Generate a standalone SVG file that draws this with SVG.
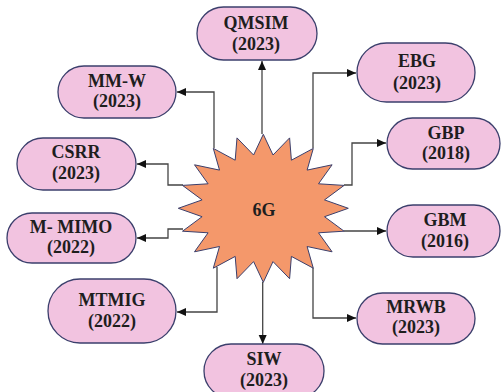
<svg xmlns="http://www.w3.org/2000/svg" width="501" height="392" viewBox="0 0 501 392">
<style>
.pill{fill:#F2C3E0;stroke:#3b3f6c;stroke-width:1.3}
.t{font-family:"Liberation Serif","Times New Roman",serif;font-weight:bold;font-size:18px;fill:#1e1e1e;text-anchor:middle}
.c{fill:none;stroke:#444;stroke-width:1.3;marker-end:url(#ah)}
.star{fill:#F4986B;stroke:#3b3f6c;stroke-width:1}
</style>
<defs>
<marker id="ah" markerUnits="userSpaceOnUse" markerWidth="10" markerHeight="10" refX="9" refY="4" orient="auto">
<path d="M0,0 L9,4 L0,8 Z" fill="#111"/>
</marker>
</defs>
<rect width="501" height="392" fill="#fff"/>
<g id="connectors">
<path class="c" d="M262,134 V61"/>
<path class="c" d="M214,148 V92 H177"/>
<path class="c" d="M183,185 H168 V164 H137"/>
<path class="c" d="M183,229 H168 V238 H137"/>
<path class="c" d="M217,267 V312 H177"/>
<path class="c" d="M262.7,282 V344"/>
<path class="c" d="M313,148 V73 H356"/>
<path class="c" d="M344,185 H352 V143 H386"/>
<path class="c" d="M344,231 H386"/>
<path class="c" d="M313,268 V318 H356"/>
</g>
<g id="n6G">
<polygon class="star" points="263.3,134.3 273.0,155.0 289.6,137.9 291.4,160.2 313.3,148.4 307.1,170.1 332.1,164.8 318.5,183.8 344.1,185.4 324.5,199.9 348.3,208.3 324.5,216.7 344.1,231.2 318.5,232.8 332.1,251.8 307.1,246.5 313.3,268.2 291.4,256.4 289.6,278.7 273.0,261.6 263.3,282.3 253.6,261.6 237.0,278.7 235.2,256.4 213.3,268.2 219.5,246.5 194.5,251.8 208.1,232.8 182.5,231.2 202.1,216.7 178.3,208.3 202.1,199.9 182.5,185.4 208.1,183.8 194.5,164.8 219.5,170.1 213.3,148.4 235.2,160.2 237.0,137.9 253.6,155.0"/>
<text class="t" x="264" y="215.5" font-size="21">6G</text>
</g>
<g id="QMSIM">
<rect class="pill" x="197" y="7" width="120" height="53" rx="26.5"/>
<text class="t" x="256" y="29">QMSIM</text>
<text class="t" x="256" y="50">(2023)</text>
</g>
<g id="MMW">
<rect class="pill" x="58" y="66" width="118" height="52" rx="26"/>
<text class="t" x="117" y="87">MM-W</text>
<text class="t" x="117" y="107">(2023)</text>
</g>
<g id="CSRR">
<rect class="pill" x="17" y="138" width="119" height="52" rx="26"/>
<text class="t" x="76" y="158">CSRR</text>
<text class="t" x="76" y="179">(2023)</text>
</g>
<g id="MMIMO">
<rect class="pill" x="7" y="213" width="129" height="50" rx="25"/>
<text class="t" x="71" y="233">M- MIMO</text>
<text class="t" x="71" y="253">(2022)</text>
</g>
<g id="MTMIG">
<rect class="pill" x="48" y="279" width="128" height="64" rx="32"/>
<text class="t" x="112" y="306">MTMIG</text>
<text class="t" x="112" y="327">(2022)</text>
</g>
<g id="SIW">
<rect class="pill" x="204" y="344" width="120" height="54" rx="27"/>
<text class="t" x="264" y="365">SIW</text>
<text class="t" x="264" y="386">(2023)</text>
</g>
<g id="EBG">
<rect class="pill" x="357" y="43" width="118" height="59" rx="29.5"/>
<text class="t" x="417" y="67">EBG</text>
<text class="t" x="417" y="89">(2023)</text>
</g>
<g id="GBP">
<rect class="pill" x="387" y="118" width="113" height="51" rx="25.5"/>
<text class="t" x="446" y="139">GBP</text>
<text class="t" x="446" y="159">(2018)</text>
</g>
<g id="GBM">
<rect class="pill" x="387" y="205" width="113" height="52" rx="26"/>
<text class="t" x="445" y="226">GBM</text>
<text class="t" x="445" y="247">(2016)</text>
</g>
<g id="MRWB">
<rect class="pill" x="357" y="293" width="118" height="51" rx="25.5"/>
<text class="t" x="416" y="313">MRWB</text>
<text class="t" x="416" y="333">(2023)</text>
</g>
</svg>
